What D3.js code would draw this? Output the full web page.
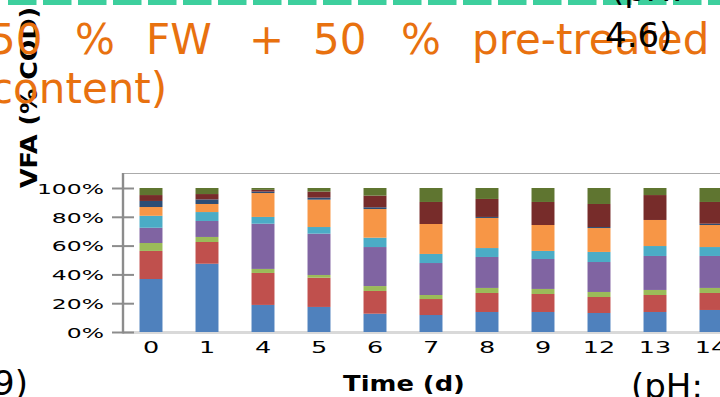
<!DOCTYPE html>
<html>
<head>
<meta charset="utf-8">
<script src="https://cdn.jsdelivr.net/npm/d3@7"></script>
<style>
  html, body { margin: 0; padding: 0; background: #fff; overflow: hidden; }
  svg { display: block; }
</style>
</head>
<body>
<svg id="chart" width="720" height="397"></svg>
<script>
// Sampling days and VFA composition (% of total VFA as COD), bottom to top of each stack
const days        = ["0", "1", "4", "5", "6", "7", "8", "9", "12", "13", "14"];
const acetic      = [36.8, 47.4, 18.8, 17.4, 12.7, 11.8, 13.9, 13.9, 13.2, 13.9, 15.3];
const propionic   = [19.5, 15.1, 22.2, 20.3, 15.8, 11.1, 13.2, 12.5, 11.1, 11.8, 11.8];
const isoButyric  = [ 5.5,  3.5,  2.8,  1.9,  3.4,  2.8,  3.5,  3.5,  3.5,  3.5,  3.5];
const butyric     = [10.6, 11.1, 31.4, 28.7, 27.1, 22.2, 21.5, 20.8, 20.8, 23.6, 22.2];
const isoValeric  = [ 8.3,  6.2,  4.7,  4.6,  6.5,  6.3,  6.2,  5.6,  7.0,  6.9,  6.2];
const valeric     = [ 6.1,  5.6, 16.6, 19.0, 19.9, 20.8, 20.9, 18.0, 16.6, 18.1, 15.3];
const isoCaproic  = [ 4.2,  3.2,  1.0,  1.4,  1.2,  0.0,  0.7,  0.0,  0.7,  0.0,  0.9];
const caproic     = [ 4.1,  3.7,  1.2,  4.2,  8.1, 15.3, 12.5, 16.0, 16.0, 17.3, 15.1];
const heptanoic   = [ 4.9,  4.2,  1.3,  2.5,  5.3,  9.7,  7.6,  9.7, 11.1,  4.9,  9.7];
const yTicks      = [0, 20, 40, 60, 80, 100];

const seriesNames  = ["acetic", "propionic", "isoButyric", "butyric", "isoValeric",
                      "valeric", "isoCaproic", "caproic", "heptanoic"];
const seriesValues = [acetic, propionic, isoButyric, butyric, isoValeric,
                      valeric, isoCaproic, caproic, heptanoic];
const seriesColors = ["#4F81BD", "#C0504D", "#9BBB59", "#8064A2", "#4BACC6",
                      "#F79646", "#2C4D75", "#772C2A", "#5F7530"];

// one row per day for d3.stack
const rows = days.map((d, i) => {
  const r = { day: d };
  seriesNames.forEach((n, k) => { r[n] = seriesValues[k][i]; });
  return r;
});

const svg = d3.select("#chart");
const FONT = "'DejaVu Sans', Verdana, sans-serif";

// plot area
const plotLeft = 123, plotTop = 173, plotBottom = 332, step = 56;
const x = d3.scaleBand()
  .domain(days)
  .range([plotLeft, plotLeft + days.length * step])
  .paddingInner(0.59)
  .paddingOuter(0.295);
const y = d3.scaleLinear().domain([0, 100]).range([plotBottom, 188]);

// teal dashed rule along the top edge
svg.append("line")
  .attr("x1", 8).attr("x2", 720).attr("y1", 2).attr("y2", 2)
  .attr("stroke", "#3DCF9D").attr("stroke-width", 6)
  .attr("stroke-dasharray", "28.5 6.5");

// frame top
svg.append("line")
  .attr("x1", plotLeft).attr("x2", 720).attr("y1", plotTop + 0.5).attr("y2", plotTop + 0.5)
  .attr("stroke", "#ababab").attr("stroke-width", 1.2);

// category axis baseline
svg.append("line")
  .attr("x1", plotLeft).attr("x2", 720).attr("y1", plotBottom + 0.5).attr("y2", plotBottom + 0.5)
  .attr("stroke", "#d9d9d9").attr("stroke-width", 3);

// stacked bars
const stacked = d3.stack().keys(seriesNames)(rows);
svg.append("g").selectAll("g")
  .data(stacked)
  .join("g")
  .attr("fill", (d, i) => seriesColors[i])
  .selectAll("rect")
  .data(d => d)
  .join("rect")
  .attr("x", d => x(d.data.day))
  .attr("width", x.bandwidth())
  .attr("y", d => y(d[1]))
  .attr("height", d => Math.max(0, y(d[0]) - y(d[1])));

// value axis
const yAxis = svg.append("g")
  .attr("transform", `translate(${plotLeft},0)`)
  .call(d3.axisLeft(y).tickValues(yTicks).tickFormat(d => d + "%").tickSizeOuter(0));
yAxis.select(".domain").remove();
yAxis.selectAll(".tick line")
  .attr("x1", -11).attr("x2", 11)
  .attr("stroke", "#8c8c8c").attr("stroke-width", 2);
yAxis.selectAll(".tick text")
  .attr("x", 0).attr("dy", "0.36em")
  .attr("transform", "translate(-19,0) scale(1.62,1)")
  .attr("text-anchor", "end")
  .attr("fill", "#000")
  .style("font-family", FONT).style("font-size", "14.5px");
svg.append("line")
  .attr("x1", plotLeft).attr("x2", plotLeft).attr("y1", plotTop).attr("y2", plotBottom + 1.5)
  .attr("stroke", "#8c8c8c").attr("stroke-width", 2.4);

// category labels
svg.append("g").selectAll("text")
  .data(days)
  .join("text")
  .attr("transform", d => `translate(${x(d) + x.bandwidth() / 2},353) scale(1.7,1)`)
  .attr("text-anchor", "middle")
  .style("font-family", FONT).style("font-size", "15px")
  .attr("fill", "#000")
  .text(d => d);

// axis titles
svg.append("text")
  .attr("transform", "translate(404,391) scale(1.2,1)")
  .attr("text-anchor", "middle")
  .style("font-family", FONT).style("font-size", "21.5px").style("font-weight", "bold")
  .text("Time (d)");

svg.append("text")
  .attr("transform", "translate(37,188) rotate(-90)")
  .attr("textLength", 181).attr("lengthAdjust", "spacingAndGlyphs")
  .style("font-family", FONT).style("font-size", "23px").style("font-weight", "bold")
  .text("VFA (% COD)");

// caption text in orange
const caption = svg.append("text")
  .style("font-family", FONT).style("font-size", "42px")
  .attr("fill", "#E8710F");
const words = [["50", -11], ["%", 75], ["FW", 146], ["+", 249], ["50", 313], ["%", 401], ["pre-treated", 472]];
words.forEach(([w, px]) => caption.append("tspan").attr("x", px).attr("y", 54).text(w));
svg.append("text")
  .attr("x", -10).attr("y", 103)
  .style("font-family", FONT).style("font-size", "42px")
  .attr("fill", "#E8710F")
  .text("content)");

// pH notes in black
const note = (t, px, py) => svg.append("text")
  .attr("x", px).attr("y", py)
  .style("font-family", FONT).style("font-size", "34px")
  .attr("fill", "#000").text(t);
note("(pH:", 611, 1);
note("4.6)", 605, 47);
note("9)", -7, 395);
note("(pH:", 631, 398);
</script>
</body>
</html>
